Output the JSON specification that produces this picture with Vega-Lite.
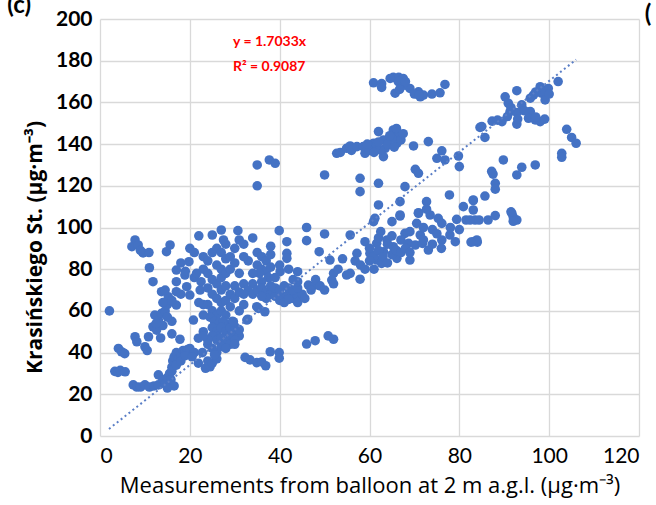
{
  "$schema": "https://vega.github.io/schema/vega-lite/v6.json",
  "width": 539,
  "height": 417,
  "autosize": "none",
  "padding": {"left": 100, "top": 19, "right": 17, "bottom": 69},
  "background": "white",
  "config": {
    "font": "Lato",
    "view": {"stroke": null},
    "axis": {
      "grid": true,
      "gridColor": "#d9d9d9",
      "gridWidth": 1.3,
      "domain": false,
      "ticks": false,
      "labelColor": "#000000",
      "titleColor": "#000000",
      "labelFontSize": 21,
      "labelFont": "Lato",
      "titleFont": "Open Sans"
    }
  },
  "datasets": {
    "pts": [
      {"x":2.1,"y":60},{"x":3.3,"y":31},{"x":4,"y":30.5},{"x":4.5,"y":31.5},{"x":5.6,"y":30.8},{"x":4.1,"y":42},{"x":4.8,"y":40.4},{"x":5.5,"y":39.5},{"x":7.8,"y":47.6},{"x":8.2,"y":45.2},{"x":10.8,"y":47.6},{"x":10,"y":42.8},{"x":10.5,"y":41},{"x":7.4,"y":24.5},{"x":8.2,"y":23.5},{"x":9,"y":23.5},{"x":10,"y":24.5},{"x":11,"y":23.5},{"x":12,"y":24},{"x":13,"y":24.5},{"x":7.8,"y":94},{"x":7.1,"y":90.8},{"x":8.5,"y":91.6},{"x":9.6,"y":87.8},{"x":10.9,"y":88},{"x":9,"y":89},{"x":11,"y":80.7},{"x":11.8,"y":74},{"x":12.2,"y":58},{"x":13,"y":55.6},{"x":11.8,"y":52.4},{"x":13.7,"y":58.8},{"x":12.6,"y":50.8},{"x":13.7,"y":69.2},{"x":15.2,"y":66.8},
      {"x":15.6,"y":91.6},{"x":14.8,"y":88.4},{"x":18,"y":83},{"x":19.8,"y":83.6},{"x":17,"y":79.6},{"x":18.9,"y":77.2},{"x":17,"y":62.8},{"x":17,"y":69.2},{"x":19.3,"y":71.6},{"x":22.3,"y":70},{"x":20,"y":67.6},{"x":20.8,"y":55.6},{"x":17.8,"y":46.4},{"x":21.9,"y":46.9},{"x":13,"y":29.3},{"x":14,"y":27},{"x":14.5,"y":25},{"x":15,"y":28},{"x":15.5,"y":30},{"x":16,"y":33},{"x":16.2,"y":36},{"x":16.5,"y":38},{"x":17,"y":40},{"x":17.5,"y":37},{"x":18,"y":39},{"x":18.5,"y":41},{"x":19,"y":40},{"x":19.5,"y":41.5},{"x":20,"y":42},{"x":21,"y":40},{"x":16,"y":31},{"x":17,"y":34},{"x":15.8,"y":27},{"x":16.5,"y":24},{"x":15,"y":23},{"x":18,"y":36},{"x":19,"y":38.5},{"x":20.5,"y":38},{"x":21.9,"y":34.9},{"x":24.5,"y":33.2},{"x":23.5,"y":32.5},{"x":16,"y":55},{"x":14.5,"y":60},{"x":15,"y":63},{"x":14,"y":64},{"x":15,"y":57},{"x":14,"y":53},{"x":16,"y":49},{"x":13.5,"y":47},{"x":12.5,"y":54},{"x":14.5,"y":70},{"x":16,"y":65},{"x":18,"y":68},{"x":17,"y":74},{"x":19,"y":79},{"x":21,"y":76},{"x":20,"y":90},{"x":21,"y":88},
      {"x":22,"y":96},{"x":25,"y":96.4},{"x":27,"y":98.8},{"x":23,"y":86},{"x":24,"y":84},{"x":23,"y":80},{"x":24,"y":78},{"x":25,"y":88},{"x":26,"y":90},{"x":27,"y":88},{"x":28,"y":92},{"x":28,"y":85},{"x":26,"y":82},{"x":27,"y":80},{"x":25,"y":75},{"x":26,"y":73},{"x":27,"y":76},{"x":28,"y":78},{"x":29,"y":80},{"x":30,"y":83},{"x":30,"y":90},{"x":24,"y":71},{"x":25,"y":68},{"x":26,"y":66},{"x":27,"y":64},{"x":28,"y":65},{"x":24,"y":63},{"x":25,"y":60},{"x":26,"y":58},{"x":27,"y":60},{"x":28,"y":58},{"x":29,"y":62},{"x":24.5,"y":57},{"x":25.5,"y":55},{"x":26.5,"y":54},{"x":27.5,"y":55},{"x":28.5,"y":53},{"x":29.5,"y":55},{"x":25,"y":52},{"x":26,"y":50},{"x":27,"y":52},{"x":28,"y":50},{"x":29,"y":48},{"x":30,"y":50},{"x":31,"y":48},{"x":25,"y":48},{"x":26,"y":46},{"x":27,"y":47},{"x":28,"y":45},{"x":29,"y":44},{"x":30,"y":46},{"x":24,"y":44},{"x":25,"y":42},{"x":26,"y":40},{"x":27,"y":43},{"x":28,"y":42},{"x":29,"y":52},{"x":30,"y":52.5},{"x":31,"y":51},{"x":30,"y":44},{"x":24,"y":46},{"x":23,"y":50},{"x":23,"y":58},{"x":23,"y":63},{"x":22,"y":64},{"x":22.5,"y":74},{"x":21.5,"y":78},{"x":29.7,"y":54.8},{"x":32.9,"y":56},{"x":30.7,"y":98.5},{"x":31,"y":94},{"x":32,"y":92},{"x":24,"y":36},{"x":25,"y":35},{"x":26,"y":37},{"x":25.5,"y":39},{"x":23,"y":48},{"x":22.8,"y":40},{"x":27,"y":70},{"x":28,"y":72},{"x":29,"y":68},{"x":30,"y":66},{"x":31,"y":69},{"x":32,"y":73},{"x":31,"y":78},{"x":29,"y":86},{"x":27.5,"y":94},{"x":30,"y":72},{"x":31,"y":60},{"x":32,"y":63},
      {"x":34.9,"y":62},{"x":35.3,"y":61.2},{"x":36.7,"y":59.6},{"x":32.7,"y":55.6},{"x":32.3,"y":37.7},{"x":33.4,"y":36.5},{"x":34.9,"y":35.2},{"x":36.9,"y":33.7},{"x":37.9,"y":40.4},{"x":39.9,"y":40},{"x":39.9,"y":37.3},{"x":36,"y":35.5},
      {"x":35,"y":88},{"x":36,"y":86},{"x":37,"y":84},{"x":38,"y":87},{"x":35,"y":82},{"x":36,"y":80},{"x":37,"y":79},{"x":38,"y":81},{"x":35.5,"y":78},{"x":37.5,"y":76},{"x":36,"y":74},{"x":34,"y":73},{"x":33,"y":70},{"x":32,"y":68},{"x":34,"y":68},{"x":35,"y":70},{"x":36,"y":71},{"x":37,"y":69},{"x":38,"y":68},{"x":39,"y":67},{"x":40,"y":66},{"x":41,"y":67},{"x":42,"y":68},{"x":43,"y":66},{"x":44,"y":67},{"x":45,"y":68},{"x":39,"y":71},{"x":40,"y":70},{"x":41,"y":72},{"x":42,"y":71},{"x":43,"y":70},{"x":44,"y":71},{"x":38,"y":72},{"x":37,"y":66},{"x":36,"y":67},{"x":40,"y":65},{"x":41,"y":64},{"x":42,"y":65.5},{"x":44,"y":64},{"x":45.6,"y":66},{"x":39.9,"y":98.5},{"x":41.6,"y":93.2},{"x":41.6,"y":87.6},{"x":41.6,"y":85.2},{"x":40.1,"y":78.8},{"x":44,"y":78.8},{"x":44,"y":74},{"x":46.4,"y":72.4},{"x":47.9,"y":72.4},{"x":39,"y":76},{"x":40,"y":82},{"x":42,"y":80},{"x":43,"y":75},{"x":34,"y":78},{"x":33,"y":84},{"x":32,"y":86},{"x":34,"y":95},{"x":38,"y":91},
      {"x":35,"y":130},{"x":35,"y":120},{"x":37.7,"y":132.4},{"x":39,"y":130.8},
      {"x":46,"y":100},{"x":46,"y":93.7},{"x":50,"y":96.9},{"x":55.7,"y":96.4},{"x":48.8,"y":88.4},{"x":51.2,"y":84.4},{"x":52,"y":78},{"x":54.9,"y":77.2},{"x":51.6,"y":74.8},{"x":52,"y":73},{"x":46,"y":44.1},{"x":47.9,"y":45.7},{"x":50.8,"y":48},{"x":52,"y":46.4},{"x":50,"y":125.2},{"x":52.7,"y":135.6},{"x":53.5,"y":136},{"x":54.9,"y":138},{"x":55.7,"y":139.1},{"x":56,"y":137},{"x":57.2,"y":138.8},{"x":58.6,"y":138.8},{"x":59,"y":135.6},{"x":57.9,"y":123.6},{"x":57.9,"y":117.2},{"x":59,"y":93.2},{"x":57.2,"y":87.6},{"x":55.7,"y":78},{"x":57.9,"y":75.2},{"x":56.8,"y":84},{"x":47,"y":70},{"x":48,"y":75},{"x":49,"y":72},{"x":50,"y":70},{"x":53,"y":80},{"x":54,"y":85},{"x":58,"y":82},{"x":59,"y":80},
      {"x":60.1,"y":87.6},{"x":61.6,"y":92.4},{"x":63.9,"y":94},{"x":63.1,"y":88.4},{"x":61.6,"y":84.4},{"x":62.7,"y":82.8},{"x":65.3,"y":90.8},{"x":66.1,"y":85.2},{"x":67.9,"y":97.2},{"x":68.7,"y":92.4},{"x":70.5,"y":102},{"x":71.3,"y":96.4},{"x":70.2,"y":91.6},{"x":71.8,"y":92.4},{"x":73.1,"y":89.2},{"x":69,"y":84.4},{"x":76.1,"y":94},{"x":77.9,"y":96.4},{"x":79.1,"y":93.2},{"x":83.1,"y":93.2},{"x":84,"y":93},{"x":83.9,"y":94},{"x":82.6,"y":93},{"x":60.9,"y":102.8},{"x":65,"y":102.8},{"x":66.8,"y":105.5},{"x":70.9,"y":106.8},{"x":73.5,"y":106},{"x":75.3,"y":104.4},{"x":76.1,"y":102},{"x":79.4,"y":103.9},{"x":81.5,"y":103.6},{"x":83.5,"y":103.6},{"x":82.4,"y":103.6},{"x":84.4,"y":103.6},{"x":86.4,"y":103.6},{"x":88,"y":105.7},{"x":91.7,"y":106.8},{"x":92.8,"y":103.6},{"x":92,"y":105},{"x":61.2,"y":104.4},{"x":66.8,"y":106},{"x":70.9,"y":107.1},{"x":60,"y":90},{"x":61,"y":86},{"x":62,"y":89},{"x":63,"y":86},{"x":64,"y":83},{"x":65,"y":87},{"x":66,"y":89},{"x":67,"y":88},{"x":68,"y":90},{"x":69,"y":88},{"x":64,"y":92},{"x":62,"y":95},{"x":60,"y":84},{"x":61,"y":80},{"x":62.5,"y":98},{"x":65,"y":96},{"x":67,"y":94},{"x":69,"y":98},{"x":72,"y":100},{"x":74,"y":99},{"x":72,"y":94},{"x":74,"y":92},{"x":75,"y":97},{"x":78,"y":100},{"x":80,"y":99},{"x":76,"y":90},
      {"x":62,"y":121.2},{"x":62,"y":110.8},{"x":67.9,"y":119.6},{"x":66.8,"y":112.4},{"x":72.7,"y":112.4},{"x":72.7,"y":108.8},{"x":77.8,"y":115.6},{"x":80.9,"y":110},{"x":83.1,"y":113.2},{"x":70.2,"y":127.9},{"x":70.9,"y":126},{"x":75,"y":133.2},{"x":76.8,"y":132.4},{"x":79.8,"y":134.3},{"x":80,"y":129.2},{"x":76.1,"y":136.8},{"x":84.6,"y":148},{"x":73.1,"y":141.2},{"x":69.8,"y":139.1},
      {"x":60.9,"y":140.4},{"x":62,"y":146},{"x":63.1,"y":142},{"x":63.5,"y":138},{"x":63.1,"y":134},{"x":65.3,"y":146.8},{"x":66.4,"y":144.4},{"x":66.1,"y":140.4},{"x":65,"y":142.8},{"x":62.4,"y":137.2},{"x":61.5,"y":139},{"x":64,"y":140},{"x":67,"y":142},{"x":66,"y":147.5},{"x":64.5,"y":144},{"x":60,"y":137},{"x":61,"y":136},{"x":62,"y":141},{"x":59.5,"y":140},{"x":65.5,"y":138.5},{"x":67.5,"y":145},
      {"x":60.9,"y":169.4},{"x":62.7,"y":169},{"x":62.7,"y":167.2},{"x":65.3,"y":172},{"x":66.5,"y":172},{"x":67.5,"y":171.5},{"x":66.4,"y":170},{"x":67.9,"y":168.3},{"x":69,"y":166.7},{"x":65.7,"y":164.4},{"x":70.9,"y":165.1},{"x":71.3,"y":162.7},{"x":72,"y":163.5},{"x":73.9,"y":164},{"x":75.7,"y":164.6},{"x":76.8,"y":168.6},{"x":66.7,"y":166.2},{"x":64.6,"y":171.5},{"x":68,"y":170},{"x":70,"y":164},{"x":71,"y":163.5},
      {"x":102,"y":170},{"x":99.8,"y":166.7},{"x":98,"y":167.5},{"x":98.3,"y":164.4},{"x":96.5,"y":163.5},{"x":95.8,"y":162},{"x":99.1,"y":161.2},{"x":92.8,"y":165.6},{"x":90.2,"y":162.7},{"x":90.9,"y":159.6},{"x":93.9,"y":158.8},{"x":91.3,"y":155.6},{"x":92.8,"y":155.1},{"x":95.8,"y":155.6},{"x":95.4,"y":152.4},{"x":96.9,"y":151.6},{"x":98,"y":150.8},{"x":89.5,"y":150.8},{"x":87.3,"y":151},{"x":92.8,"y":149.6},{"x":90.7,"y":153.2},{"x":85,"y":148.4},{"x":85.7,"y":143.2},{"x":88.5,"y":151.5},{"x":91.5,"y":157.5},{"x":94.5,"y":156},{"x":97,"y":153},{"x":99,"y":152},{"x":93,"y":152},{"x":100,"y":164},{"x":97,"y":165},{"x":103.9,"y":147.1},{"x":105,"y":143.2},{"x":106,"y":140.4},{"x":102.8,"y":135.6},{"x":102.8,"y":133.7},{"x":89.8,"y":132.4},{"x":87.2,"y":126.9},{"x":87.5,"y":125.6},{"x":92.8,"y":125.2},{"x":93.9,"y":128.9},{"x":96.9,"y":130},{"x":88,"y":121.2},{"x":88,"y":118.4},{"x":85.7,"y":115.1},{"x":83.1,"y":112.9},{"x":83.1,"y":108.4},{"x":91.5,"y":107.5},{"x":92,"y":103}
    ],
    "trend": [{"x": 2, "y": 3.4}, {"x": 106, "y": 180.5}],
    "eq": [{"x": 29.6, "y": 189, "t": "y = 1.7033x"}, {"x": 29.6, "y": 177, "t": "R² = 0.9087"}],
    "panel": [{"x": -18, "y": 206, "t": "(c)"}, {"x": 122, "y": 202, "t": "("}]
  },
  "layer": [
    {
      "data": {"name": "pts"},
      "mark": {"type": "circle", "size": 92, "color": "#4472C4", "opacity": 1},
      "encoding": {
        "x": {"field": "x", "type": "quantitative",
          "scale": {"domain": [0, 120], "nice": false},
          "axis": {"values": [0, 20, 40, 60, 80, 100, 120], "labelPadding": 9,
            "title": "Measurements from balloon at 2 m a.g.l. (µg·m⁻³)", "titleFontSize": 22,
            "titleFontWeight": "normal", "titlePadding": 9}},
        "y": {"field": "y", "type": "quantitative",
          "scale": {"domain": [0, 200], "nice": false},
          "axis": {"values": [0, 20, 40, 60, 80, 100, 120, 140, 160, 180, 200], "labelPadding": 8,
            "labelFontWeight": "bold",
            "title": "Krasińskiego St. (µg·m⁻³)", "titleFontSize": 21,
            "titleFontWeight": "bold", "titlePadding": 10, "titleY": 228}}
      }
    },
    {
      "data": {"name": "trend"},
      "mark": {"type": "line", "color": "#5a7ec6", "strokeWidth": 2, "strokeDash": [2, 3]},
      "encoding": {
        "x": {"field": "x", "type": "quantitative"},
        "y": {"field": "y", "type": "quantitative"}
      }
    },
    {
      "data": {"name": "eq"},
      "mark": {"type": "text", "color": "#ff0000", "fontSize": 14, "fontWeight": "bold", "align": "left", "baseline": "middle"},
      "encoding": {
        "x": {"field": "x", "type": "quantitative"},
        "y": {"field": "y", "type": "quantitative"},
        "text": {"field": "t"}
      }
    },
    {
      "data": {"name": "panel"},
      "mark": {"type": "text", "color": "#000000", "fontSize": 24, "fontWeight": "bold", "align": "center", "baseline": "middle"},
      "encoding": {
        "x": {"field": "x", "type": "quantitative"},
        "y": {"field": "y", "type": "quantitative"},
        "text": {"field": "t"}
      }
    }
  ]
}
